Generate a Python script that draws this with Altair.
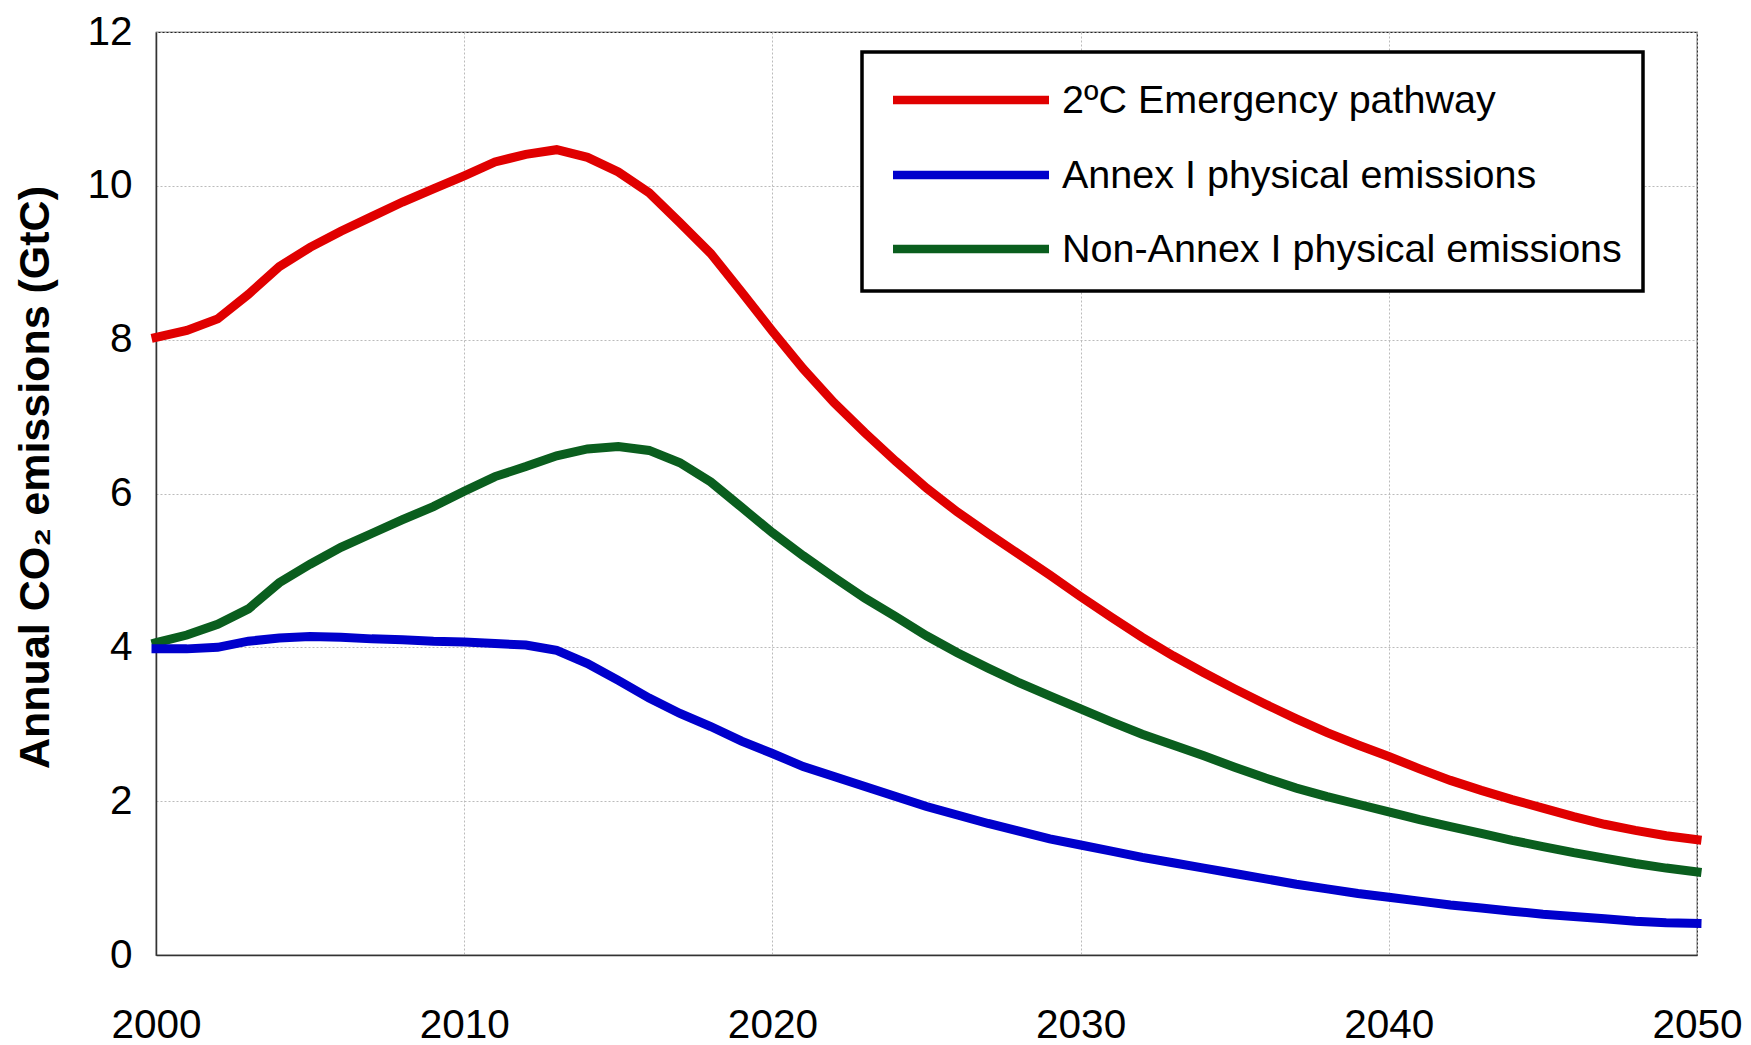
import altair as alt
import pandas as pd

years = list(range(2000, 2051))

emergency_2c = [8.03, 8.12, 8.27, 8.59, 8.95, 9.20, 9.41, 9.60, 9.79, 9.96,
                10.13, 10.31, 10.41, 10.47, 10.37, 10.18, 9.91, 9.52, 9.12, 8.62,
                8.11, 7.62, 7.18, 6.79, 6.42, 6.07, 5.76, 5.48, 5.21, 4.94,
                4.66, 4.39, 4.13, 3.89, 3.67, 3.46, 3.26, 3.07, 2.89, 2.73,
                2.58, 2.42, 2.27, 2.14, 2.02, 1.91, 1.80, 1.70, 1.62, 1.55,
                1.50]

annex1 = [3.98, 3.98, 4.00, 4.08, 4.12, 4.14, 4.13, 4.11, 4.10, 4.08,
          4.07, 4.05, 4.03, 3.96, 3.79, 3.57, 3.34, 3.14, 2.97, 2.78,
          2.62, 2.45, 2.32, 2.19, 2.06, 1.93, 1.82, 1.71, 1.61, 1.51,
          1.43, 1.35, 1.27, 1.20, 1.13, 1.06, 0.99, 0.92, 0.86, 0.80,
          0.75, 0.70, 0.65, 0.61, 0.57, 0.53, 0.50, 0.47, 0.44, 0.42,
          0.41]

non_annex1 = [4.06, 4.16, 4.30, 4.50, 4.84, 5.08, 5.30, 5.48, 5.66, 5.83,
              6.03, 6.22, 6.35, 6.49, 6.58, 6.61, 6.56, 6.40, 6.15, 5.82,
              5.49, 5.19, 4.91, 4.64, 4.40, 4.15, 3.93, 3.73, 3.54, 3.37,
              3.20, 3.03, 2.87, 2.73, 2.59, 2.44, 2.30, 2.17, 2.06, 1.96,
              1.86, 1.76, 1.67, 1.58, 1.49, 1.41, 1.33, 1.26, 1.19, 1.13,
              1.08]

series_names = ["2ºC Emergency pathway", "Annex I physical emissions",
                "Non-Annex I physical emissions"]
series_colors = ["#E00000", "#0000CC", "#0A5E1E"]

x_ticks = [2000, 2010, 2020, 2030, 2040, 2050]
y_ticks = [0, 2, 4, 6, 8, 10, 12]

# long table; drawing order: green, blue, red
rows = []
for name, vals in [(series_names[2], non_annex1), (series_names[1], annex1),
                   (series_names[0], emergency_2c)]:
    for yr, v in zip(years, vals):
        rows.append({"year": yr, "value": v, "series": name})
df = pd.DataFrame(rows)

W, H = 1541, 923
FONT = "Liberation Sans"

lines = alt.Chart(df).mark_line(strokeWidth=9, strokeCap="square").encode(
    x=alt.X("year:Q",
            scale=alt.Scale(domain=[2000, 2050], nice=False, zero=False),
            axis=alt.Axis(values=x_ticks, format="d", title=None,
                          labelPadding=50, labelFlush=False,
                          labelOverlap=False, labelBound=False)),
    y=alt.Y("value:Q",
            scale=alt.Scale(domain=[0, 12], nice=False),
            axis=alt.Axis(values=y_ticks, title="Annual CO₂ emissions (GtC)",
                          labelPadding=24, titleFont=FONT, titleFontSize=43,
                          titleFontWeight="bold", titleAngle=270,
                          titleX=-108, titleY=445, titleAlign="center",
                          titleBaseline="alphabetic", titleColor="black")),
    color=alt.Color("series:N",
                    scale=alt.Scale(domain=series_names, range=series_colors),
                    legend=None),
    detail="series:N",
)

one = pd.DataFrame({"k": [0]})

# legend box
box = alt.Chart(one).mark_rect(fill="white", stroke="black",
                               strokeWidth=3.5).encode(
    x=alt.value(706), x2=alt.value(1487), y=alt.value(20), y2=alt.value(259)
)

layers = [lines, box]
sym_y = [68, 143, 217]
for name, col, sy in zip(series_names, series_colors, sym_y):
    sym = alt.Chart(pd.DataFrame({"c": [col]})).mark_rule(
        strokeWidth=8.5).encode(
        x=alt.value(737), x2=alt.value(893), y=alt.value(sy),
        color=alt.Color("c:N", scale=None))
    lab = alt.Chart(pd.DataFrame({"label": [name]})).mark_text(
        font=FONT, fontSize=39.5, align="left", baseline="alphabetic",
        color="black").encode(
        x=alt.value(906), y=alt.value(sy + 13), text="label:N")
    layers += [sym, lab]

chart = alt.layer(*layers).properties(
    width=W, height=H,
    autosize=alt.AutoSizeParams(type="none"),
    padding={"left": 148, "top": 24, "right": 46, "bottom": 95},
).configure_view(
    stroke="#222222", strokeWidth=1.2
).configure_axis(
    grid=True, gridColor="#BBBBBB", gridDash=[2, 2], gridWidth=1,
    domainColor="#333333", domainWidth=1.5,
    ticks=False, tickSize=0,
    labelFont=FONT, labelFontSize=40.5, labelColor="black",
)

chart.save("out.html", embed_options={"renderer": "svg", "actions": False})
